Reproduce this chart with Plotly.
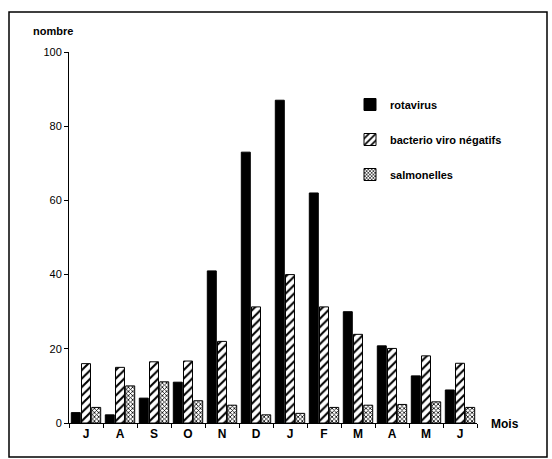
import plotly.graph_objects as go

months = ["J", "A", "S", "O", "N", "D", "J ", "F", "M", "A ", "M ", "J  "]
rotavirus = [2.8, 2.2, 6.7, 11, 41, 73, 87, 62, 30, 20.8, 12.7, 8.9]
bacterio = [16, 15, 16.5, 16.7, 22, 31.3, 40, 31.3, 23.9, 20.1, 18.1, 16.1]
salmonelles = [4.2, 10, 11.1, 6, 4.8, 2.2, 2.6, 4.2, 4.8, 5, 5.7, 4.2]
tick_labels = ["J", "A", "S", "O", "N", "D", "J", "F", "M", "A", "M", "J"]
yticks = [0, 20, 40, 60, 80, 100]

W, H = 552, 459
L, R, T, B = 69, 75, 52, 36
pw, ph = W - L - R, H - T - B

fig = go.Figure()
fig.add_trace(go.Bar(x=months, y=rotavirus, name="rotavirus", legendgroup="a",
                     marker=dict(color="black", line=dict(color="black", width=1))))
fig.add_trace(go.Bar(x=months, y=bacterio, name="bacterio viro négatifs", legendgroup="b",
                     marker=dict(color="white", line=dict(color="black", width=1),
                                 pattern=dict(shape="/", fgcolor="black", bgcolor="white",
                                              size=6, solidity=0.35, fillmode="replace"))))
fig.add_trace(go.Bar(x=months, y=salmonelles, name="salmonelles", legendgroup="c",
                     marker=dict(color="white", line=dict(color="black", width=1),
                                 pattern=dict(shape="x", fgcolor="black", bgcolor="white",
                                              size=3, solidity=0.45, fillmode="replace"))))

def px_x(x):
    return (x - L) / pw

def px_y(y):
    return (H - B - y) / ph

fig.update_layout(
    width=W, height=H,
    margin=dict(l=L, r=R, t=T, b=B),
    paper_bgcolor="white", plot_bgcolor="white",
    barmode="group", bargap=0.1, bargroupgap=0.12,
    font=dict(family="Liberation Sans, Arial, sans-serif", size=11, color="black"),
    showlegend=True,
    legend=dict(x=px_x(350), y=px_y(90), xanchor="left", yanchor="top",
                bgcolor="rgba(0,0,0,0)", tracegroupgap=16,
                font=dict(size=11, family="Liberation Sans, Arial, sans-serif", weight="bold")),
    xaxis=dict(type="category", categoryorder="array", categoryarray=months,
               tickvals=months, ticktext=tick_labels,
               showline=True, linecolor="black", linewidth=1,
               ticks="outside", ticklen=4, tickcolor="black", tickson="boundaries",
               showgrid=False, zeroline=False,
               tickfont=dict(size=12, weight="bold")),
    yaxis=dict(range=[0, 100], tickvals=yticks, showline=True, linecolor="black", linewidth=1,
               ticks="outside", ticklen=4, tickcolor="black", showgrid=False, zeroline=False,
               tickfont=dict(size=11)),
    annotations=[
        dict(text="nombre", xref="paper", yref="paper", x=px_x(31), y=px_y(31),
             xanchor="left", yanchor="middle", showarrow=False,
             font=dict(size=11, weight="bold")),
        dict(text="Mois", xref="paper", yref="paper", x=px_x(489), y=px_y(424),
             xanchor="left", yanchor="middle", showarrow=False,
             font=dict(size=12, weight="bold")),
    ],
    shapes=[
        dict(type="rect", xref="paper", yref="paper",
             x0=px_x(9), x1=px_x(547), y0=px_y(457), y1=px_y(12),
             line=dict(color="black", width=1.5), fillcolor="rgba(0,0,0,0)", layer="below"),
    ],
)

fig.write_html("out.html", config={"displayModeBar": False},
               post_script="document.body.style.margin='0px';document.body.style.overflow='hidden';")
